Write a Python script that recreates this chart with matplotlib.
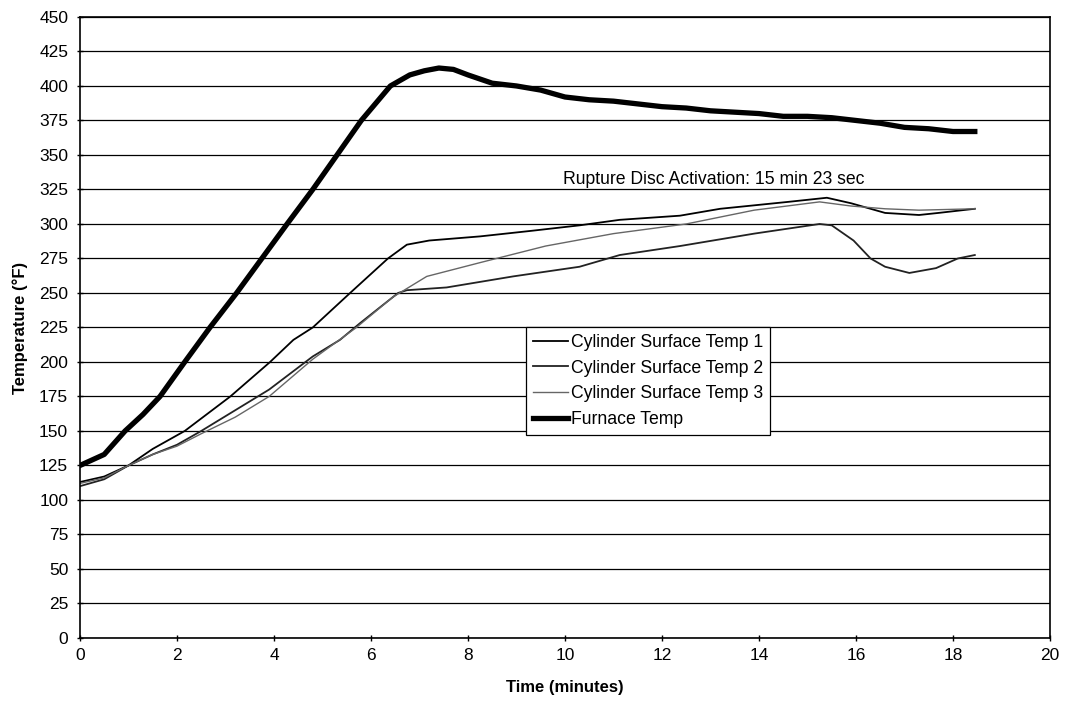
import numpy as np
import matplotlib
matplotlib.use("Agg")
import matplotlib.pyplot as plt

plt.rcParams['font.family'] = ['Liberation Sans', 'DejaVu Sans']

# furnace temperature (F) vs time (min)
furnace_t = [0, 0.5, 0.93, 1.3, 1.65, 2.16, 2.68, 3.23, 3.75, 4.27, 4.8, 5.3, 5.8,
             6.4, 6.8, 7.1, 7.4, 7.7, 8.0, 8.5, 9.0, 9.5, 10.0, 10.5, 11.0, 11.5,
             12.0, 12.5, 13.0, 13.5, 14.0, 14.5, 15.0, 15.5, 16.0, 16.5, 17.0,
             17.5, 18.0, 18.45]
furnace_v = [125, 133, 150, 162, 175, 200, 225, 250, 275, 300, 325, 350, 375,
             400, 408, 411, 413, 412, 408, 402, 400, 397, 392, 390, 389, 387,
             385, 384, 382, 381, 380, 378, 378, 377, 375, 373, 370,
             369, 367, 367]

# cylinder surface temp 1 (upper)
cyl1_t = [0, 0.5, 1.0, 1.5, 2.16, 3.1, 3.92, 4.4, 4.8, 5.57, 6.35, 6.74, 7.2,
          8.25, 9.3, 10.3, 11.13, 12.37, 13.2, 14.6, 15.4, 15.9, 16.6, 17.3,
          17.7, 18.45]
cyl1_v = [113, 117, 125, 137, 150, 175, 200, 216, 225, 250, 275, 285, 288,
          291, 295, 299, 303, 306, 311, 316, 319, 315, 308, 306.5,
          308, 311]

# cylinder surface temp 2 (lower)
cyl2_t = [0, 0.5, 1.0, 1.5, 2.0, 2.5, 3.2, 3.9, 4.8, 5.36, 5.77, 6.2, 6.56,
          6.74, 7.56, 8.93, 10.3, 11.13, 12.37, 13.9, 15.25, 15.5, 15.95,
          16.3, 16.6, 17.1, 17.65, 18.1, 18.45]
cyl2_v = [110, 115, 125, 133, 140, 150, 165, 180, 204, 216, 228, 240, 250,
          252, 254, 262, 269, 277.5, 284, 293, 300, 299, 288,
          275, 269, 264.5, 268, 275, 277.5]

# cylinder surface temp 3 (middle)
cyl3_t = [0, 0.5, 1.0, 1.5, 2.0, 2.5, 3.2, 3.9, 4.8, 5.7, 6.45, 7.15, 8.25,
          9.6, 11.0, 12.5, 13.9, 15.25, 15.9, 16.6, 17.3, 18.45]
cyl3_v = [112, 116, 125, 133, 139, 148, 160, 175, 202, 225, 247, 262, 272,
          284, 293, 300, 310, 316, 313, 311, 310, 311]

fig = plt.figure(figsize=(10.65, 7.04), dpi=100)
ax = fig.add_axes([0.0751, 0.0938, 0.9108, 0.8821])

ax.plot(cyl1_t, cyl1_v, color="black", lw=1.3, label="Cylinder Surface Temp 1")
ax.plot(cyl2_t, cyl2_v, color="#222222", lw=1.3, label="Cylinder Surface Temp 2")
ax.plot(cyl3_t, cyl3_v, color="#666666", lw=1.0, label="Cylinder Surface Temp 3")
ax.plot(furnace_t, furnace_v, color="black", lw=3.8, label="Furnace Temp")

ax.text(9.96, 332, "Rupture Disc Activation: 15 min 23 sec", fontsize=12.7,
        ha="left", va="center")

ax.set_xlim(0, 20)
ax.set_ylim(0, 450)
ax.set_xticks(np.arange(0, 21, 2))
ax.set_yticks(np.arange(0, 451, 25))
ax.tick_params(axis="both", labelsize=12.5, direction="inout", length=5,
               width=1, colors="black")
ax.tick_params(axis="x", pad=5)
ax.tick_params(axis="y", pad=6)
ax.grid(axis="y", color="black", lw=0.9)
ax.set_axisbelow(True)
for s in ax.spines.values():
    s.set_linewidth(1.2)

ax.set_xlabel("Time (minutes)", fontsize=12, fontweight="bold", labelpad=12)
ax.set_ylabel("Temperature (°F)", fontsize=12, fontweight="bold", labelpad=8)

leg = ax.legend(loc="center", bbox_to_anchor=(0.5856, 0.4138), fontsize=12.7,
                frameon=True, fancybox=False, handlelength=2.0,
                handletextpad=0.15, borderpad=0.4, labelspacing=0.5,
                borderaxespad=0)
leg.get_frame().set_edgecolor("black")
leg.get_frame().set_linewidth(0.9)
leg.get_frame().set_alpha(1)

fig.savefig("out.png", dpi=100)
